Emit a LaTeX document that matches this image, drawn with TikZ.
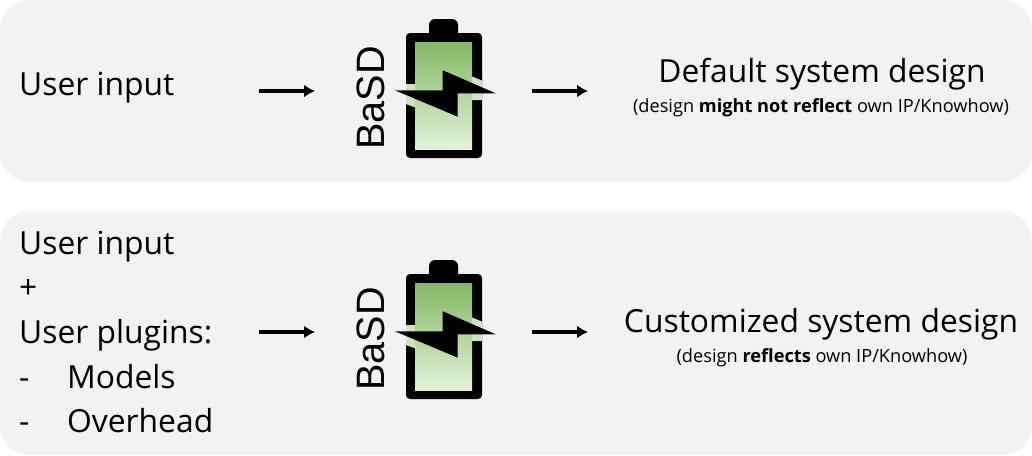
\documentclass[tikz,border=0pt]{standalone}
\usepackage{fontspec}
\setmainfont{Open Sans}
\newfontfamily\basdfont{Liberation Sans}
\usetikzlibrary{arrows.meta}
\definecolor{panelgray}{HTML}{F2F2F2}
\definecolor{chargetop}{HTML}{82B964}
\definecolor{chargelow}{HTML}{E4F1D9}
\definecolor{chargeband}{HTML}{CFE5BE}
\tikzset{
  panel/.style={fill=panelgray, rounded corners=30pt},
  bigtext/.style={anchor=base west, inner sep=0pt, font=\fontsize{31.8}{44.5}\selectfont},
  titletext/.style={anchor=base, inner sep=0pt, font=\fontsize{31.8}{36}\selectfont},
  smalltext/.style={anchor=base, inner sep=0pt, font=\fontsize{18.2}{20}\selectfont},
  basdtext/.style={anchor=base, rotate=90, inner sep=0pt, font=\basdfont\fontsize{39.6}{42}\selectfont},
  flow/.style={line width=3.4pt, -{Latex[length=11pt,width=13pt]}},
}
\newcommand{\drawbattery}{
  \fill[black, rounded corners=4pt] (406,33) rectangle (482,158);
  \fill[black, rounded corners=6pt] (429,19) rectangle (458,40);
  \begin{scope}
    \clip (406,33) rectangle (482,158);
    \fill[chargeband] (395,84) -- (437,84) -- (437,62) -- (500,88) -- (500,100) -- (463,100) -- (463,125) -- (395,100) -- cycle;
  \end{scope}
  \fill[top color=chargetop, bottom color=chargelow] (415,42) rectangle (472,149);
  \fill[black] (395,90.3) -- (442.7,90.3) -- (442.7,70.3) -- (495.7,93.3) -- (457.7,93.3) -- (457.7,116.7) -- cycle;
}
\begin{document}
\begin{tikzpicture}[x=1pt, y=-1pt]
\useasboundingbox (0,0) rectangle (1032,455);
\fill[panel] (0,0) rectangle (1032,182);
\fill[panel] (0,211) rectangle (1032,455);
% first row
\node[bigtext] (input1) at (19,95) {User input};
\node[basdtext] (basd1) at (384,98) {BaSD};
\drawbattery
\node[titletext] (design1) at (822,82) {Default system design};
\node[smalltext] (note1) at (821,112) {(design \textbf{might not reflect} own IP/Knowhow)};
\coordinate (a1) at (259,91);
\coordinate (b1) at (315,91);
\coordinate (c1) at (532,91);
\coordinate (d1) at (588,91);
\draw[flow] (a1) -- (b1);
\draw[flow] (c1) -- (d1);
% second row
\node[bigtext] (line1) at (19,254) {User input};
\node[bigtext] (line2) at (19,298) {+};
\node[bigtext] (line3) at (19,343) {User plugins:};
\node[bigtext] (line4) at (19,388) {\makebox[48pt][l]{-}Models};
\node[bigtext] (line5) at (19,432) {\makebox[48pt][l]{-}Overhead};
\node[basdtext] (basd2) at (384,339) {BaSD};
\begin{scope}[yshift=-241pt]
\drawbattery
\end{scope}
\node[titletext] (design2) at (821,332) {Customized system design};
\node[smalltext] (note2) at (822,362) {(design \textbf{reflects} own IP/Knowhow)};
\coordinate (a2) at (259,332);
\coordinate (b2) at (315,332);
\coordinate (c2) at (532,332);
\coordinate (d2) at (588,332);
\draw[flow] (a2) -- (b2);
\draw[flow] (c2) -- (d2);
\end{tikzpicture}
\end{document}
